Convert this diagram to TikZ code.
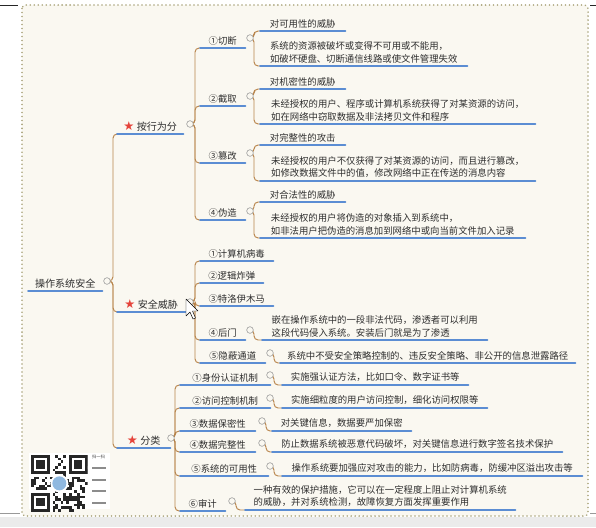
\documentclass[tikz,border=0pt]{standalone}
\usepackage{fontspec}
\setmainfont{Noto Sans CJK SC}
\newfontfamily\symfont{DejaVu Sans}
\usepackage{xcolor}
\usepackage{tikz}
\usetikzlibrary{calc}

\definecolor{paper}{HTML}{FAF8F1}
\definecolor{dotborder}{HTML}{ABA57C}
\definecolor{branchbrown}{HTML}{B8844A}
\definecolor{lineblue}{HTML}{5B8DD3}
\definecolor{inktext}{HTML}{2E2E2E}
\definecolor{foldgray}{HTML}{9A9A9A}
\definecolor{starred}{HTML}{E5443B}
\definecolor{qrblue}{HTML}{8FB8DF}

\newcommand{\redstar}{{\symfont\fontsize{10.5}{10}\selectfont\textcolor{starred}{★}}\hspace{2pt}}

\begin{document}
\begin{tikzpicture}[
  x=0.03cm, y=-0.03cm,
  topic/.style={
    anchor=south west, minimum width=#1*0.03cm, inner xsep=0pt, inner ysep=2.5pt,
    font=\fontsize{8}{10.4}\selectfont, text=inktext, align=left
  },
  branch/.style={topic=#1, font=\fontsize{8.6}{10.4}\selectfont},
  fold/.style={
    circle, draw=foldgray, fill=paper, line width=0.5pt,
    minimum size=0.2cm, inner sep=0pt
  },
  conn/.style={draw=branchbrown, line width=0.8pt, rounded corners=3.5pt},
  uline/.style={draw=lineblue, line width=1.5pt, line cap=round}
]
  \useasboundingbox (0,0) rectangle (596,527);
  \fill[white] (0,0) rectangle (596,527);
  \fill[black!8] (0,517) rectangle (596,527);
  \draw[black!85, line width=0.8pt] (0,5) -- (18,5) (590,5) -- (596,5);
  \draw[black!40, line width=0.6pt] (0,513) -- (20,513) (590,513) -- (596,513);
  \draw[dotborder, fill=paper, line width=1.5pt, line cap=round,
    dash pattern=on 0.01pt off 3.4pt, rounded corners=3pt] (22,5) rectangle (588,516);

  % main branches
  \node[branch=74] (root)     at (28,291)  {操作系统安全};
  \node[branch=66] (behav)    at (117,134) {\redstar 按行为分};
  \node[branch=68] (threat)   at (117,312) {\redstar 安全威胁};
  \node[branch=53] (classify) at (117,448) {\redstar 分类};

  % by behaviour
  \node[topic=45] (cut)       at (200,48)  {①切断};
  \node[topic=45] (intercept) at (200,106) {②截取};
  \node[topic=45] (tamper)    at (200,163) {③篡改};
  \node[topic=45] (forge)     at (200,220) {④伪造};

  \node[topic=85]  (cutA) at (260,31)  {对可用性的威胁};
  \node[topic=207] (cutB) at (260,66)  {系统的资源被破坏或变得不可用或不能用，\\如破坏硬盘、切断通信线路或使文件管理失效};
  \node[topic=85]  (intA) at (260,89)  {对机密性的威胁};
  \node[topic=275] (intB) at (260,124) {未经授权的用户、程序或计算机系统获得了对某资源的访问，\\如在网络中窃取数据及非法拷贝文件和程序};
  \node[topic=85]  (tamA) at (260,145) {对完整性的攻击};
  \node[topic=275] (tamB) at (260,181) {未经授权的用户不仅获得了对某资源的访问，而且进行篡改，\\如修改数据文件中的值，修改网络中正在传送的消息内容};
  \node[topic=85]  (forA) at (260,202) {对合法性的威胁};
  \node[topic=265] (forB) at (260,238) {未经授权的用户将伪造的对象插入到系统中，\\如非法用户把伪造的消息加到网络中或向当前文件加入记录};

  % threats
  \node[topic=73] (virus)    at (200,261) {①计算机病毒};
  \node[topic=63] (bomb)     at (200,283) {②逻辑炸弹};
  \node[topic=73] (trojan)   at (200,306) {③特洛伊木马};
  \node[topic=45] (backdoor) at (200,340) {④后门};
  \node[topic=65] (covert)   at (200,363) {⑤隐蔽通道};

  \node[topic=225] (backA) at (262,340) {嵌在操作系统中的一段非法代码，渗透者可以利用\\这段代码侵入系统。安装后门就是为了渗透};
  \node[topic=295] (covA)  at (280,363) {系统中不受安全策略控制的、违反安全策略、非公开的信息泄露路径};

  % classes
  \node[topic=90] (ident)  at (180,385) {①身份认证机制};
  \node[topic=90] (access) at (180,408) {②访问控制机制};
  \node[topic=75] (conf)   at (180,431) {③数据保密性};
  \node[topic=75] (integ)  at (180,452) {④数据完整性};
  \node[topic=88] (avail)  at (180,476) {⑤系统的可用性};
  \node[topic=45] (audit)  at (180,511) {⑥审计};

  \node[topic=186] (idA)     at (282,385) {实施强认证方法，比如口令、数字证书等};
  \node[topic=205] (accA)    at (282,408) {实施细粒度的用户访问控制，细化访问权限等};
  \node[topic=139] (confA)   at (272,431) {对关键信息，数据要严加保密};
  \node[topic=290] (integA)  at (272,452) {防止数据系统被恶意代码破坏，对关键信息进行数字签名技术保护};
  \node[topic=300] (availA)  at (282,476) {操作系统要加强应对攻击的能力，比如防病毒，防缓冲区溢出攻击等};
  \node[topic=270] (auditA)  at (245,510) {一种有效的保护措施，它可以在一定程度上阻止对计算机系统\\的威胁，并对系统检测，故障恢复方面发挥重要作用};

  % fold markers
  \coordinate (fRoot)  at (107,281);
  \coordinate (fBehav) at (190,124);
  \coordinate (fThreat) at (190,302);
  \coordinate (fClass) at (171,438);
  \coordinate (fCut)   at (250,38);
  \coordinate (fInt)   at (250,96);
  \coordinate (fTam)   at (250,153);
  \coordinate (fFor)   at (250,211);
  \coordinate (fBack)  at (250,330);
  \coordinate (fCov)   at (270,353);
  \coordinate (fId)    at (270,375);
  \coordinate (fAcc)   at (270,398);
  \coordinate (fConf)  at (262,421);
  \coordinate (fInteg) at (262,443);
  \coordinate (fAvail) at (270,466);
  \coordinate (fAudit) at (232,501);

  % connectors
  \foreach \c in {behav,threat,classify}
    \draw[conn] (fRoot) -- ++(6,0) |- (\c.south west);
  \foreach \c in {cut,intercept,tamper,forge}
    \draw[conn] (fBehav) -- ++(5,0) |- (\c.south west);
  \foreach \c in {virus,bomb,trojan,backdoor,covert}
    \draw[conn] (fThreat) -- ++(5,0) |- (\c.south west);
  \foreach \c in {ident,access,conf,integ,avail,audit}
    \draw[conn] (fClass) -- ++(4,0) |- (\c.south west);
  \foreach \f/\a/\b in {fCut/cutA/cutB, fInt/intA/intB, fTam/tamA/tamB, fFor/forA/forB}{
    \draw[conn] (\f) -- ++(4,0) |- (\a.south west);
    \draw[conn] (\f) -- ++(4,0) |- (\b.south west);
  }
  \foreach \f/\a in {fBack/backA, fCov/covA, fId/idA, fAcc/accA, fConf/confA,
                     fInteg/integA, fAvail/availA, fAudit/auditA}
    \draw[conn] (\f) -- ++(4,0) |- (\a.south west);

  \foreach \n in {root,behav,threat,classify,cut,intercept,tamper,forge,
                  cutA,cutB,intA,intB,tamA,tamB,forA,forB,
                  virus,bomb,trojan,backdoor,covert,backA,covA,
                  ident,access,conf,integ,avail,audit,
                  idA,accA,confA,integA,availA,auditA}
    \draw[uline] (\n.south west) -- (\n.south east);

  \foreach \f in {fRoot,fBehav,fThreat,fClass,fCut,fInt,fTam,fFor,fBack,fCov,
                  fId,fAcc,fConf,fInteg,fAvail,fAudit}
    \node[fold] (\f-o) at (\f) {};

  % mouse pointer
  \draw[fill=white, draw=black, line width=0.4pt, line join=round]
    (186,299) -- (186,316) -- (190,312) -- (193,319) -- (195.5,318)
    -- (192.5,311) -- (198,311) -- cycle;

  % qr code
  \fill[white] (29,453) rectangle (110,509);
  \begin{scope}[shift={(31,455)}]
    \clip (0,0) rectangle (56.7,56.7);
    \pgfmathsetseed{11}
    \foreach \i in {0,...,20}{
      \foreach \j in {0,...,20}{
        \pgfmathrandominteger{\bit}{0}{1}
        \ifnum\bit=1 \fill[black!85] (\i*2.7,\j*2.7) rectangle ++(2.7,2.7);\fi
      }
    }
    \foreach \ox/\oy in {0/0,14/0,0/14}{
      \fill[white] (\ox*2.7-2.7,\oy*2.7-2.7) rectangle ++(24.3,24.3);
      \fill[black!85] (\ox*2.7,\oy*2.7) rectangle ++(18.9,18.9);
      \fill[white] (\ox*2.7+2.7,\oy*2.7+2.7) rectangle ++(13.5,13.5);
      \fill[black!85] (\ox*2.7+5.4,\oy*2.7+5.4) rectangle ++(8.1,8.1);
    }
    \fill[white] (28.35,28.35) circle (9);
    \fill[qrblue] (28.35,28.35) circle (7);
  \end{scope}
  \node[font=\fontsize{3.6}{4}\selectfont, anchor=west, inner sep=0pt, text=black!80]
    (qrscan) at (92,457) {扫一扫};
  \foreach \yy in {468,480,491,503}
    \fill[black!45] (92,\yy-1.2) rectangle (106,\yy+1.2);
\end{tikzpicture}
\end{document}
